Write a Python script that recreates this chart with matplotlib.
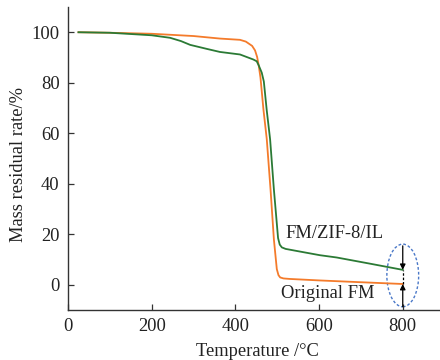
import matplotlib
matplotlib.use("Agg")
import matplotlib.pyplot as plt
from matplotlib.patches import Ellipse

plt.rcParams['font.family'] = ['Liberation Serif', 'DejaVu Serif']

# Data
T_fm = [25, 100, 200, 300, 363, 411, 425, 440, 447, 452, 456, 460, 467, 475, 484, 492, 499, 503, 507, 515, 530, 602, 700, 800]
m_fm = [100, 99.8, 99.4, 98.5, 97.5, 97.0, 96.3, 94.6, 92.8, 90.2, 86.6, 82.0, 69.5, 57.7, 37.8, 18.0, 6.2, 3.8, 2.9, 2.5, 2.3, 1.7, 1.0, 0.3]

T_zif = [25, 100, 200, 244, 270, 292, 332, 363, 411, 443, 451, 456, 463, 468, 475, 483, 492, 502, 506, 511, 520, 546, 602, 642, 720, 800]
m_zif = [100, 99.8, 98.8, 97.8, 96.5, 95.0, 93.4, 92.2, 91.2, 89.2, 88.5, 86.8, 84.0, 80.5, 69.0, 57.6, 37.8, 18.5, 15.9, 14.8, 14.2, 13.4, 11.7, 10.8, 8.4, 5.9]

x_ticks = [0, 200, 400, 600, 800]
y_ticks = [0, 20, 40, 60, 80, 100]

FS = 13.3
TXT = '#222222'

fig = plt.figure(figsize=(4.4, 3.6), dpi=100)
ax = fig.add_axes([68/440, 50/360, 1 - 68/440, (310 - 7)/360])

ax.plot(T_fm, m_fm, color='#F47B2B', lw=1.3)
ax.plot(T_zif, m_zif, color='#2B7A35', lw=1.3)

ax.set_xlim(0, 889)
ax.set_ylim(-10, 110)
ax.set_xticks(x_ticks)
ax.set_yticks(y_ticks)

for s in ['top', 'right']:
    ax.spines[s].set_visible(False)
for s in ['left', 'bottom']:
    ax.spines[s].set_color('#333333')
    ax.spines[s].set_linewidth(1.0)

ax.tick_params(axis='both', direction='in', length=4, width=0.9, color='#333333',
               labelsize=FS, labelcolor=TXT)
ax.tick_params(axis='x', pad=6)
ax.tick_params(axis='y', pad=6)

ax.set_xlabel('Temperature /°C', fontsize=FS, color=TXT)
ax.set_ylabel('Mass residual rate/%', fontsize=FS, color=TXT)
ax.xaxis.set_label_coords((257 - 68) / 372, (310 - 343) / 303)
ax.yaxis.set_label_coords((27 - 68) / 372, (310 - 164) / 303)

# annotations
ax.text(519, 18.5, 'FM/ZIF-8/IL', fontsize=FS, color=TXT, va='baseline', ha='left')
ax.text(508, -5.4, 'Original FM', fontsize=FS, color=TXT, va='baseline', ha='left')

ell = Ellipse((800, 3.7), width=76, height=24.8, fill=False, edgecolor='#4A78C8',
              linestyle=(0, (2, 1.5)), lw=1.0)
ax.add_patch(ell)

ax.plot([800, 800], [m_fm[-1], m_zif[-1]], color='black', lw=0.9, linestyle=(0, (2, 1.5)))
ax.annotate('', xy=(800, m_zif[-1]), xytext=(800, 15.4),
            arrowprops=dict(arrowstyle='-|>', color='black', lw=0.9,
                            mutation_scale=8, shrinkA=0, shrinkB=0))
ax.annotate('', xy=(800, m_fm[-1]), xytext=(800, -8.7),
            arrowprops=dict(arrowstyle='-|>', color='black', lw=0.9,
                            mutation_scale=8, shrinkA=0, shrinkB=0))

fig.savefig('out.png', dpi=100)
